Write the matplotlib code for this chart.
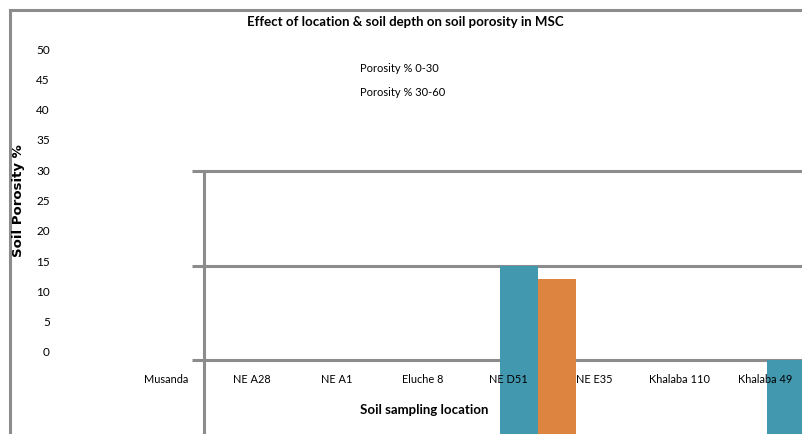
import matplotlib
matplotlib.use("Agg")
import matplotlib.pyplot as plt

# -------------------------
# dados
# -------------------------
locais = ["Musanda", "NE A28", "NE A1", "Eluche 8", "NE D51", "NE E35",
          "Khalaba 110", "Khalaba 49"]
poros_0_30 = [0, 0, 0, 0, 45.0, 0, 0, 30.0]
poros_30_60 = [0, 0, 0, 0, 42.9, 0, 0, 28.0]
y_ticks = [0, 5, 10, 15, 20, 25, 30, 35, 40, 45, 50]
grid_ticks = [30, 45, 60]

TEAL = "#4298AF"
LARANJA = "#DC8440"
CINZA = "#8C8C8C"
FONTE = "Lato"

W, H = 802, 434
fig = plt.figure(figsize=(W / 100, H / 100), dpi=100)


def px_box(x0, y_top, x1, y_bot):
    # caixa em pixels (y de cima para baixo) -> fracoes da figura
    return [x0 / W, 1 - y_bot / H, (x1 - x0) / W, (y_bot - y_top) / H]


# -------------------------
# moldura externa (linha esquerda e de cima)
# -------------------------
frame = fig.add_axes(px_box(9.5, 10, 900, 500))
frame.set_xticks([])
frame.set_yticks([])
for s in ["right", "bottom"]:
    frame.spines[s].set_visible(False)
for s in ["left", "top"]:
    frame.spines[s].set_color(CINZA)
    frame.spines[s].set_linewidth(2.2)
frame.patch.set_visible(False)

# -------------------------
# area interna com as barras
# -------------------------
passo = 89.0      # px por categoria
centro0 = 182.0   # px do centro da categoria 0
x_esq, x_dir = 204, 830
escala = 6.3      # px por unidade
y_zero = 549      # px do valor 0 (fora da figura)
y_topo = 160
ax = fig.add_axes(px_box(x_esq, y_topo, x_dir, y_zero))
ax.set_xlim((x_esq - centro0) / passo, (x_dir - centro0) / passo)
ax.set_ylim(0, (y_zero - y_topo) / escala)
idx = list(range(len(locais)))
larg = 38 / passo
ax.bar([i - larg / 2 for i in idx], poros_0_30, width=larg, color=TEAL,
       linewidth=0, zorder=3)
ax.bar([i + larg / 2 for i in idx], poros_30_60, width=larg, color=LARANJA,
       linewidth=0, zorder=3)
ax.set_yticks(grid_ticks)
ax.set_yticklabels([])
ax.set_xticks([])
ax.grid(axis="y", color=CINZA, linewidth=2.2)
ax.set_axisbelow(True)
ax.tick_params(axis="y", length=8.5, width=2.2, color=CINZA, direction="out")
for s in ["right", "bottom", "top"]:
    ax.spines[s].set_visible(False)
ax.spines["left"].set_color(CINZA)
ax.spines["left"].set_linewidth(2.2)
ax.spines["left"].set_bounds(0, 60)
ax.patch.set_visible(False)

# -------------------------
# eixo "fantasma" com os rotulos
# -------------------------
esp = 85.6
c0 = 166.0
ox0, ox1 = 52, 802
ax2 = fig.add_axes(px_box(ox0, 49, ox1, 352))
ax2.set_zorder(5)
ax2.patch.set_visible(False)
ax2.set_ylim(0, 50)
ax2.set_xlim((ox0 - c0) / esp, (ox1 - c0) / esp)
ax2.set_yticks(y_ticks)
ax2.set_yticklabels([str(v) for v in y_ticks], fontsize=8.5, family=FONTE)
ax2.set_xticks(idx)
ax2.set_xticklabels(locais, fontsize=7.9, family=FONTE)
ax2.tick_params(axis="y", length=0, pad=1.5)
ax2.tick_params(axis="x", length=0, pad=16)
for s in ax2.spines.values():
    s.set_visible(False)

fig.text(405 / W, 1 - 22 / H,
         "Effect of location & soil depth on soil porosity in MSC",
         ha="center", va="center", fontsize=9.5, fontweight="bold", family=FONTE)
fig.text(360 / W, 1 - 69 / H, "Porosity % 0-30", ha="left", va="center",
         fontsize=8, family=FONTE)
fig.text(360 / W, 1 - 93 / H, "Porosity % 30-60", ha="left", va="center",
         fontsize=8, family=FONTE)
fig.text(19 / W, 1 - 201 / H, "Soil Porosity %", rotation=90, ha="center",
         va="center", fontsize=9.5, fontweight="bold", family="DejaVu Sans")
fig.text(424 / W, 1 - 410 / H, "Soil sampling location", ha="center",
         va="center", fontsize=9.5, fontweight="bold", family=FONTE)

fig.savefig("out.png", dpi=100)
